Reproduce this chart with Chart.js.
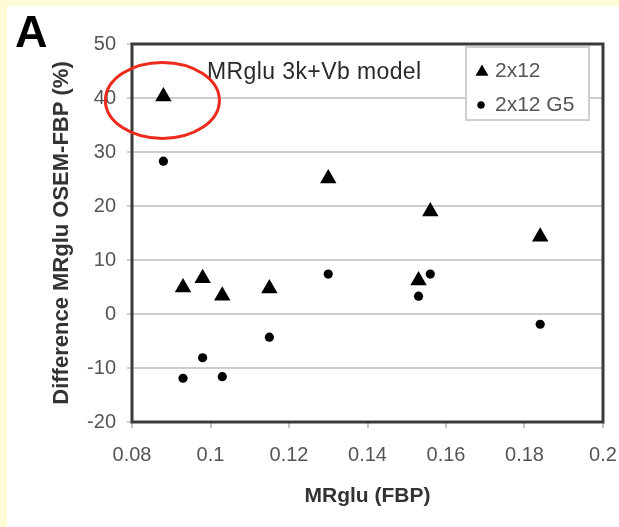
<!DOCTYPE html>
<html>
<head>
<meta charset="utf-8">
<script src="https://cdn.jsdelivr.net/npm/chart.js@4.4.0/dist/chart.umd.min.js"></script>
<style>
  html, body { margin: 0; padding: 0; background: #fffbd6; }
  #wrap { position: absolute; left: 7px; top: 6px; width: 612px; height: 521px; background: #fff; }
</style>
</head>
<body>
<div id="wrap"><canvas id="chart" width="612" height="521"></canvas></div>
<script>
// MRglu (FBP) of each region, shared by both series
var mrgluFBP = [0.088, 0.093, 0.098, 0.103, 0.115, 0.130, 0.153, 0.156, 0.184];
// difference OSEM-FBP in %, 2x12 (triangles)
var diff2x12 = [40.3, 4.9, 6.6, 3.4, 4.7, 25.1, 6.2, 19.0, 14.3];
// difference OSEM-FBP in %, 2x12 G5 (dots)
var diff2x12G5 = [28.3, -11.9, -8.1, -11.6, -4.3, 7.4, 3.3, 7.4, -1.9];

var seriesNames = ["2x12", "2x12 G5"];
var xTickLabels = ["0.08", "0.1", "0.12", "0.14", "0.16", "0.18", "0.2"];
var yTickLabels = ["-20", "-10", "0", "10", "20", "30", "40", "50"];

// point that gets the red circle round it
var circledIndex = 0;

function toPoints(xs, ys){
    var out = [];
    for (var i = 0; i < xs.length; i++) {
        out.push({x: xs[i], y: ys[i]});
    }
    return out;
}

var fontFam = "'Liberation Sans', Arial, sans-serif";

// frame, letter, note, red ellipse and boxed legend
var extras = {
    id: 'extras',
    afterDraw: function(chart){
        var ctx = chart.ctx;
        var ca = chart.chartArea;
        var xs = chart.scales.x, ys = chart.scales.y;
        ctx.save();

        // plot frame
        ctx.strokeStyle = '#3a3a3a';
        ctx.lineWidth = 3;
        ctx.strokeRect(ca.left, ca.top, ca.right - ca.left, ca.bottom - ca.top);

        // panel letter
        ctx.fillStyle = '#000';
        ctx.font = 'bold 45px ' + fontFam;
        ctx.textAlign = 'left';
        ctx.textBaseline = 'alphabetic';
        ctx.fillText('A', 8, 41);

        // model note
        ctx.fillStyle = '#2a2a2a';
        ctx.font = '23px ' + fontFam;
        ctx.textBaseline = 'middle';
        if ('letterSpacing' in ctx) ctx.letterSpacing = '0.4px';
        ctx.fillText('MRglu 3k+Vb model', ca.left + 75, ca.top + 29);
        if ('letterSpacing' in ctx) ctx.letterSpacing = '0px';

        // legend box
        var bx = ca.right - 137, by = ca.top + 3;
        ctx.fillStyle = '#fff';
        ctx.fillRect(bx, by, 123, 73);
        ctx.strokeStyle = '#cfcfcf';
        ctx.lineWidth = 2;
        ctx.strokeRect(bx, by, 123, 73);
        Chart.helpers.drawPoint(ctx, {pointStyle: 'triangle', radius: 7.5, rotation: 0, borderWidth: 0}, bx + 16, by + 25);
        ctx.fillStyle = '#000';
        ctx.fill();
        Chart.helpers.drawPoint(ctx, {pointStyle: 'circle', radius: 3.5, rotation: 0, borderWidth: 0}, bx + 15, by + 58);
        ctx.fillStyle = '#000';
        ctx.fill();
        ctx.fillStyle = '#555';
        ctx.font = '21px ' + fontFam;
        ctx.textBaseline = 'middle';
        ctx.fillText(seriesNames[0], bx + 29, by + 24);
        ctx.fillText(seriesNames[1], bx + 29, by + 58);

        // red ellipse round the highlighted point
        var cx = xs.getPixelForValue(mrgluFBP[circledIndex]);
        var cy = ys.getPixelForValue(diff2x12[circledIndex]);
        ctx.beginPath();
        ctx.ellipse(cx - 1, cy + 4, 57, 38, 0, 0, Math.PI * 2);
        ctx.strokeStyle = '#ec2b1c';
        ctx.lineWidth = 3;
        ctx.stroke();

        ctx.restore();
    }
};

var chart = new Chart('chart', {
    type: 'scatter',
    data: {
        datasets: [
            {
                label: seriesNames[0],
                data: toPoints(mrgluFBP, diff2x12),
                pointStyle: 'triangle',
                pointRadius: 9.5,
                backgroundColor: '#000',
                borderColor: '#000',
                borderWidth: 0
            },
            {
                label: seriesNames[1],
                data: toPoints(mrgluFBP, diff2x12G5),
                pointStyle: 'circle',
                pointRadius: 4.6,
                backgroundColor: '#000',
                borderColor: '#000',
                borderWidth: 0
            }
        ]
    },
    options: {
        responsive: false,
        animation: false,
        layout: { padding: { left: 0, right: 16, top: 38, bottom: 0 } },
        plugins: {
            legend: { display: false },
            tooltip: { enabled: false }
        },
        scales: {
            x: {
                type: 'linear',
                min: 0.08,
                max: 0.2,
                ticks: {
                    stepSize: 0.02,
                    autoSkip: false,
                    maxRotation: 0,
                    padding: 15,
                    color: '#555',
                    font: { family: fontFam, size: 20 },
                    callback: function(v, i){ return xTickLabels[i]; }
                },
                grid: { drawOnChartArea: false, drawTicks: true, tickLength: 6, color: '#c4c4c4', lineWidth: 2 },
                border: { display: false },
                title: {
                    display: true,
                    text: 'MRglu (FBP)',
                    color: '#333',
                    font: { family: fontFam, size: 21, weight: 'bold' },
                    padding: { top: 0, bottom: 18 }
                },
                afterFit: function(s){
                    s.height = 105;
                    s.paddingLeft = 0;
                    s.paddingRight = 0;
                }
            },
            y: {
                min: -20,
                max: 50,
                ticks: {
                    stepSize: 10,
                    padding: 11,
                    color: '#555',
                    font: { family: fontFam, size: 20 },
                    callback: function(v, i){ return yTickLabels[i]; }
                },
                grid: { color: '#cdcdcd', lineWidth: 2, tickLength: 5 },
                border: { display: false },
                title: {
                    display: true,
                    text: 'Difference MRglu OSEM-FBP (%)',
                    color: '#333',
                    font: { family: fontFam, size: 22, weight: 'bold' },
                    padding: { top: 42, bottom: 0 }
                },
                afterFit: function(s){
                    s.width = 125;
                    s.paddingTop = 0;
                    s.paddingBottom = 0;
                }
            }
        }
    },
    plugins: [extras]
});
</script>
</body>
</html>
